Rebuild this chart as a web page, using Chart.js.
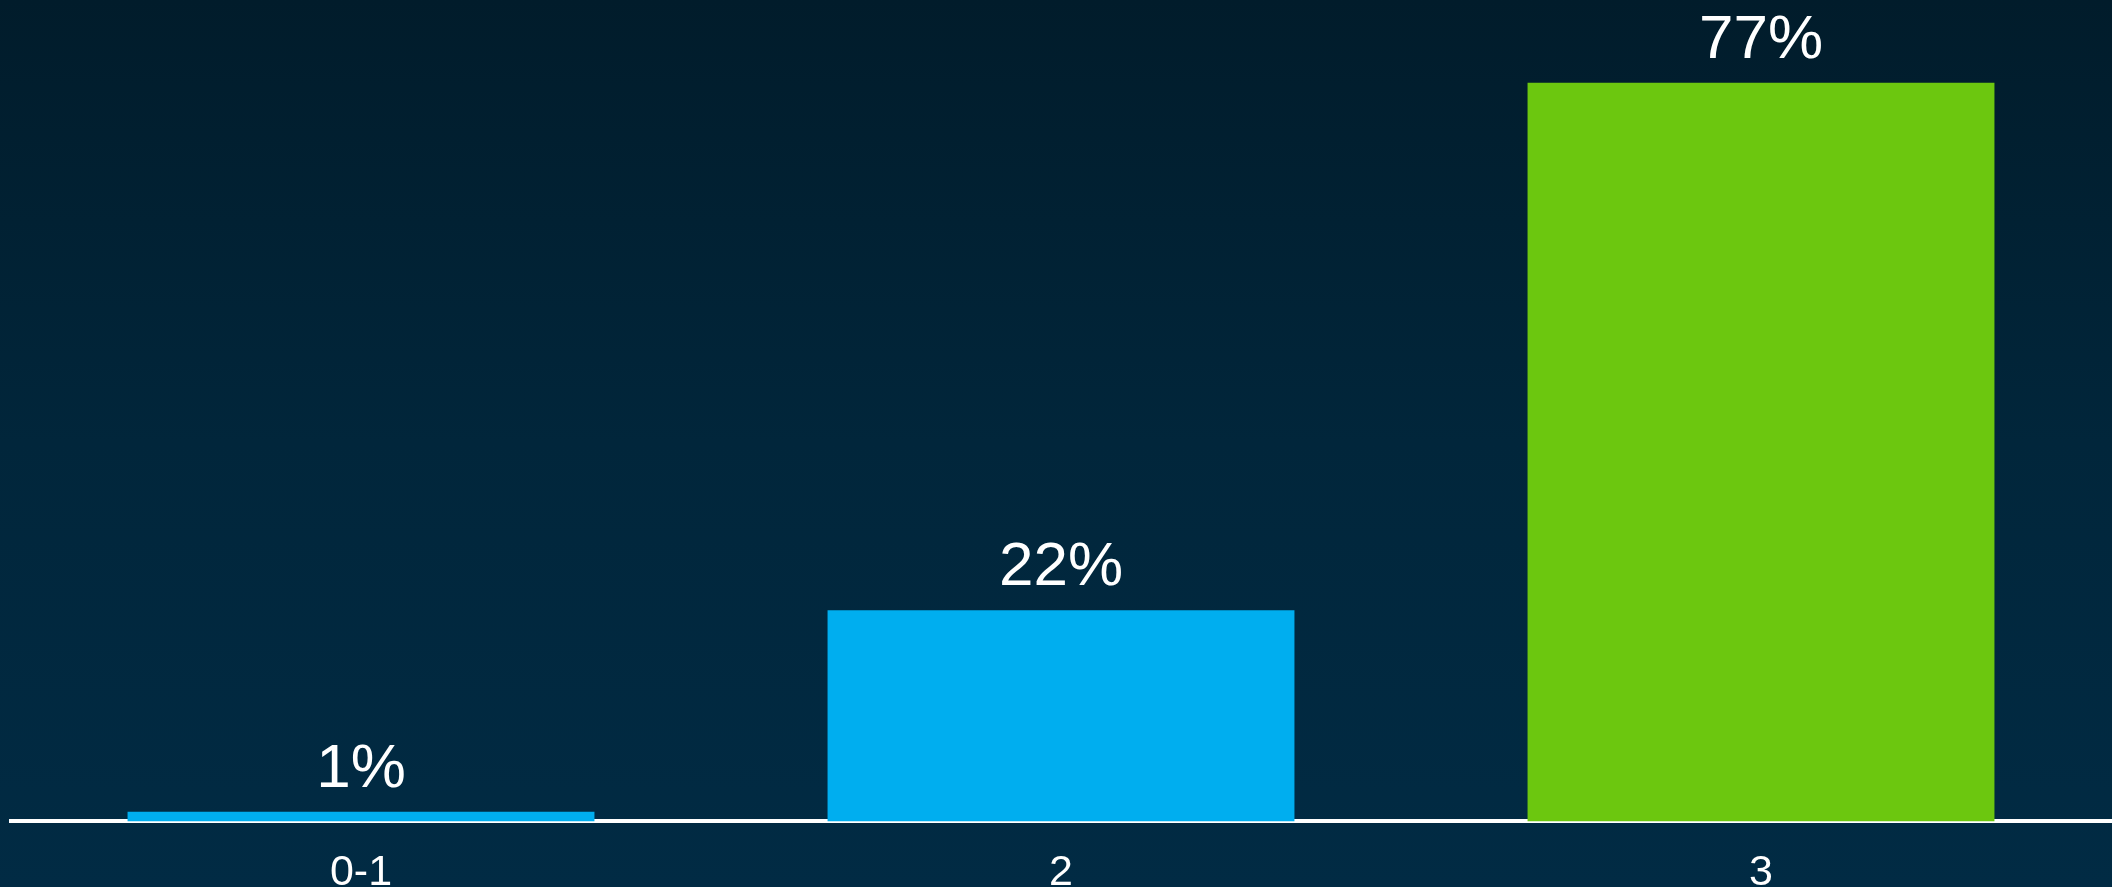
<!DOCTYPE html>
<html>
<head>
<meta charset="utf-8">
<script src="https://cdn.jsdelivr.net/npm/chart.js@4"></script>
<style>
html,body{margin:0;padding:0;}
body{width:2112px;height:887px;overflow:hidden;background:linear-gradient(to bottom,#011c2b 0%,#01263b 50%,#012b44 100%);}
canvas{display:block;}
</style>
</head>
<body>
<canvas id="c" width="2112" height="887"></canvas>
<script>
const categories = ["0-1", "2", "3"];
const values = [1, 22, 77];
const valueLabels = ["1%", "22%", "77%"];
const barColors = ["#00aeef", "#00aeef", "#6cc70f"];

const FONT = "'Liberation Sans', Arial, sans-serif";

const valueLabelPlugin = {
  id: 'valueLabels',
  afterDatasetsDraw(chart) {
    const ctx = chart.ctx;
    const meta = chart.getDatasetMeta(0);
    ctx.save();
    ctx.fillStyle = '#ffffff';
    ctx.font = '62px ' + FONT;
    ctx.textAlign = 'center';
    ctx.textBaseline = 'alphabetic';
    meta.data.forEach((bar, i) => {
      ctx.fillText(valueLabels[i], bar.x, bar.y - 25);
    });
    ctx.restore();
  }
};

new Chart(document.getElementById('c'), {
  type: 'bar',
  data: {
    labels: categories,
    datasets: [{
      data: values,
      backgroundColor: barColors,
      borderWidth: 0,
      categoryPercentage: 1,
      barPercentage: 0.667
    }]
  },
  options: {
    responsive: false,
    animation: false,
    devicePixelRatio: 1,
    layout: { padding: { top: 54, left: 11, right: 1, bottom: -38 } },
    plugins: { legend: { display: false }, tooltip: { enabled: false } },
    scales: {
      x: {
        grid: { display: false, drawTicks: false },
        border: { display: true, color: '#ffffff', width: 4 },
        ticks: { color: '#ffffff', font: { family: FONT, size: 43 }, padding: 26 }
      },
      y: {
        display: false,
        min: 0,
        max: 80
      }
    }
  },
  plugins: [valueLabelPlugin]
});
</script>
</body>
</html>
